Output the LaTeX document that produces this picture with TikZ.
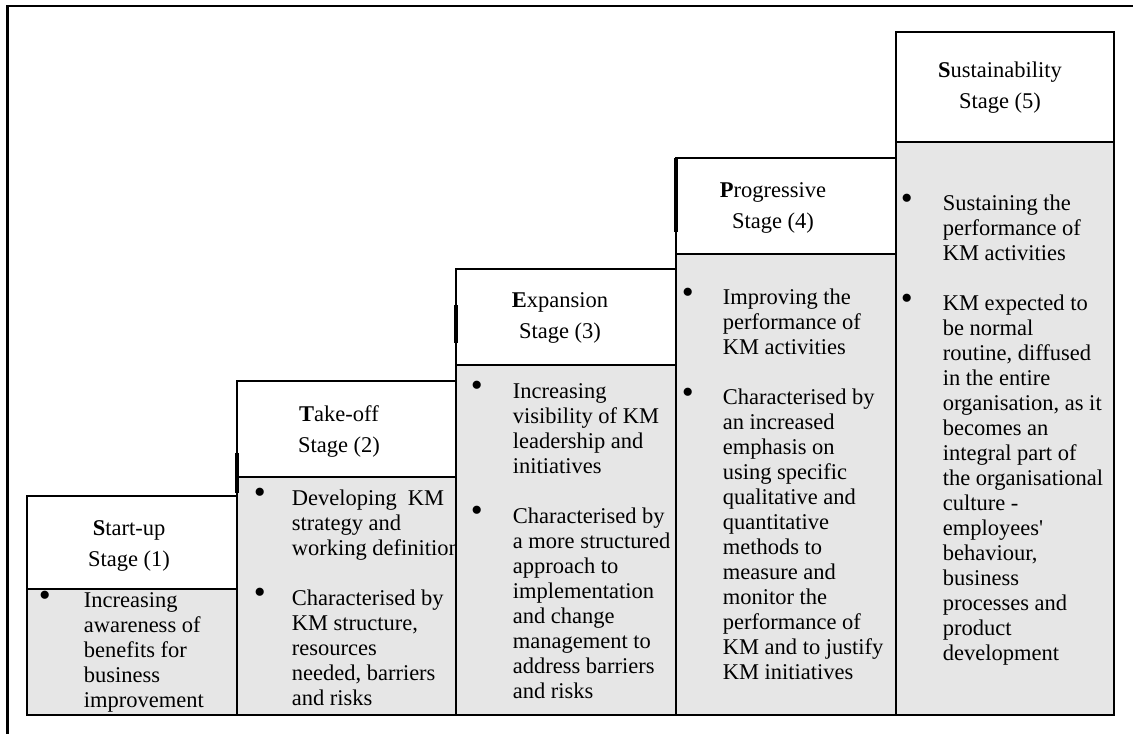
\documentclass[tikz,border=0pt]{standalone}
\usepackage{fontspec}
\setmainfont{Liberation Serif}
\usepackage{tikz}

\definecolor{kmgray}{HTML}{E6E6E6}
\newcommand{\kmbul}[1]{\llap{\makebox[#1][l]{\raisebox{0.6pt}{\fontsize{17}{12.5}\selectfont\textbullet}}}}

\begin{document}
\begin{tikzpicture}[x=0.5pt,y=-0.5pt,line width=0.8pt,
  head/.style={align=center,inner sep=0,font=\fontsize{11.25}{15.5}\selectfont},
  body/.style={align=left,inner sep=0,anchor=west,font=\fontsize{11.25}{12.5}\selectfont}]

\useasboundingbox (0,0) rectangle (1133,734);
\fill [white] (0,0) rectangle (1133,734);

\draw [line width=1.1pt] (1133,6) -- (7.5,6) -- (7.5,734);

\fill [kmgray] (27,589) rectangle (237,715);
\fill [kmgray] (237,477) rectangle (456,715);
\fill [kmgray] (456,365) rectangle (676,715);
\fill [kmgray] (676,254) rectangle (896,715);
\fill [kmgray] (896,142) rectangle (1114,715);

\draw (27,496) rectangle (237,715);
\draw (27,589) -- (237,589);
\draw (237,381) rectangle (456,715);
\draw (237,477) -- (456,477);
\draw (456,269) rectangle (676,715);
\draw (456,365) -- (676,365);
\draw (676,158) rectangle (896,715);
\draw (676,254) -- (896,254);
\draw (896,32) rectangle (1114,715);
\draw (896,142) -- (1114,142);

\draw [line width=1.8pt] (237,453) -- (237,493);
\draw [line width=1.8pt] (456,305) -- (456,343);
\draw [line width=1.8pt] (676,158) -- (676,232);

\node [head] (h1) at (129,546) {\textbf{S}tart-up\\Stage (1)};
\node [head] (h2) at (339,431) {\textbf{T}ake-off\\Stage (2)};
\node [head] (h3) at (560,318) {\textbf{E}xpansion\\Stage (3)};
\node [head] (h4) at (773,208) {\textbf{P}rogressive\\Stage (4)};
\node [head] (h5) at (1000,88) {\textbf{S}ustainability\\Stage (5)};

\node [body] (b1) at (83,652) {\kmbul{22.5pt}Increasing\\awareness of\\benefits for\\business\\improvement};

\begin{scope}
\clip (237,477) rectangle (456,715);
\node [body] (b2) at (291,597) {\kmbul{19pt}Developing\hspace{5.5pt}KM\\strategy and\\working definition\\[12.5pt]\kmbul{19pt}Characterised by\\KM structure,\\resources\\needed, barriers\\and risks};
\end{scope}

\node [body] (b3) at (512,540) {\kmbul{21pt}Increasing\\visibility of KM\\leadership and\\initiatives\\[12.5pt]\kmbul{21pt}Characterised by\\a more structured\\approach to\\implementation\\and change\\management to\\address barriers\\and risks};

\node [body] (b4) at (722,484) {\kmbul{20.5pt}Improving the\\performance of\\KM activities\\[12.5pt]\kmbul{20.5pt}Characterised by\\an increased\\emphasis on\\using specific\\qualitative and\\quantitative\\methods to\\measure and\\monitor the\\performance of\\KM and to justify\\KM initiatives};

\node [body] (b5) at (942,430) {\kmbul{21pt}Sustaining the\\performance of\\KM activities\\[12.5pt]\kmbul{21pt}KM expected to\\be normal\\routine, diffused\\in the entire\\organisation, as it\\becomes an\\integral part of\\the organisational\\culture -\\employees\textquotesingle\\behaviour,\\business\\processes and\\product\\development};

\end{tikzpicture}
\end{document}
